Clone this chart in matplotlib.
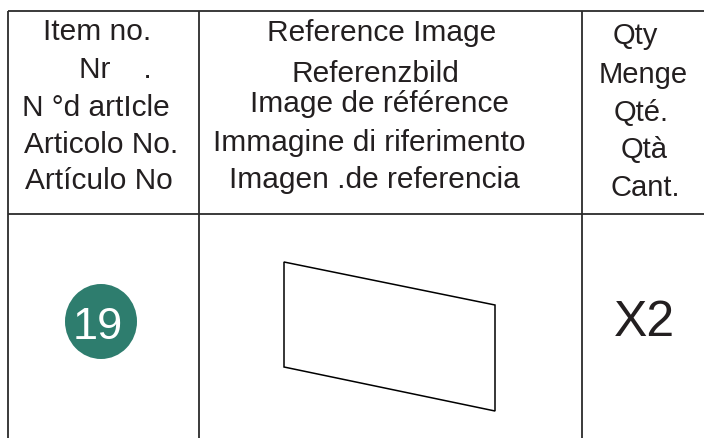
import matplotlib
matplotlib.use("Agg")
import matplotlib.pyplot as plt
from matplotlib.patches import Ellipse, Polygon

# ---- content ----
col1_header = ["Item no.", "Nr    .", "N °d artIcle", "Articolo No.", "Artículo No"]
col2_header = ["Reference Image", "Referenzbild", "Image de référence",
               "Immagine di riferimento", "Imagen .de referencia"]
col3_header = ["Qty", "Menge", "Qté.", "Qtà", "Cant."]
item_number = "19"
quantity = "X2"

# ---- layout (pixel coordinates) ----
W, H = 704, 438
col1_x = [97, 115, 96, 101, 99]
col1_y = [40, 77.5, 116, 153, 189]
col2_x = [382, 375, 380, 369, 374]
col2_y = [41, 82, 112, 151, 188]
col3_x = [635, 643, 641, 644, 645]
col3_y = [44, 83, 121, 158, 196]

TEXT = "#231f20"
LINE = "#2b2b2b"
TEAL = "#2e7d6e"
FONT = "Liberation Sans"

fig = plt.figure(figsize=(W / 100, H / 100), dpi=100)
ax = fig.add_axes([0, 0, 1, 1])
ax.set_xlim(0, W)
ax.set_ylim(H, 0)
ax.axis("off")

# table grid
lw = 1.3
ax.plot([8, W], [11, 11], color=LINE, lw=lw, solid_capstyle="butt")
ax.plot([8, W], [213.5, 213.5], color=LINE, lw=lw, solid_capstyle="butt")
for x in (8, 199, 582):
    ax.plot([x, x], [11, H], color=LINE, lw=lw, solid_capstyle="butt")

# header texts
for txt, x, y in zip(col1_header, col1_x, col1_y):
    ax.text(x, y, txt, ha="center", va="baseline", fontsize=21.5, color=TEXT, family=FONT)
for txt, x, y in zip(col2_header, col2_x, col2_y):
    ax.text(x, y, txt, ha="center", va="baseline", fontsize=21.5, color=TEXT, family=FONT)
for txt, x, y in zip(col3_header, col3_x, col3_y):
    ax.text(x, y, txt, ha="center", va="baseline", fontsize=21, color=TEXT, family=FONT)

# item number badge
ax.add_patch(Ellipse((101, 321.5), 72, 75, facecolor=TEAL, edgecolor="none"))
ax.text(98, 339, item_number, ha="center", va="baseline", fontsize=32.5,
        color="white", family=FONT)

# reference drawing (panel)
ax.add_patch(Polygon([(284, 262), (495, 305), (495, 411), (284, 367)], closed=True,
                     facecolor="white", edgecolor="black", lw=1.1, joinstyle="miter"))

# quantity
ax.text(644, 335.5, quantity, ha="center", va="baseline", fontsize=36, color=TEXT, family=FONT)

fig.savefig("out.png", dpi=100)
